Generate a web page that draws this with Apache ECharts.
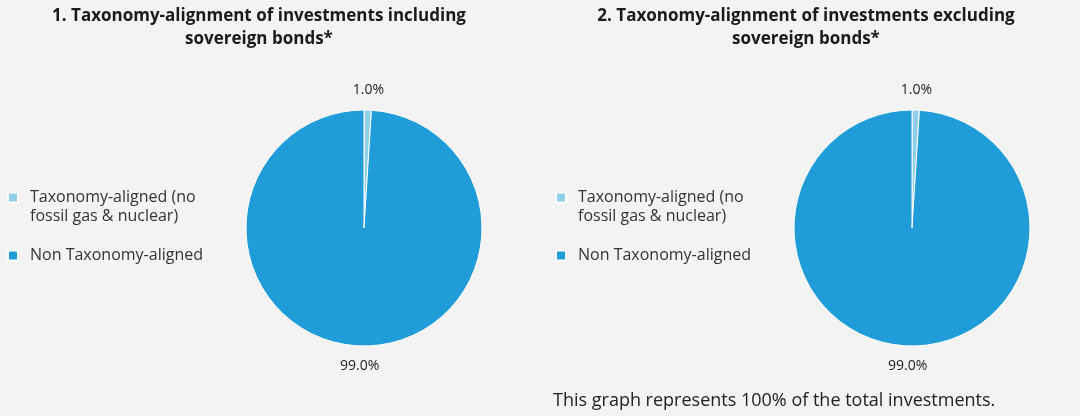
<!DOCTYPE html>
<html>
<head>
<meta charset="utf-8">
<script src="https://cdn.jsdelivr.net/npm/echarts@6/dist/echarts.min.js"></script>
<style>
  html, body { margin: 0; padding: 0; background: #f3f3f3; }
  #chart { width: 1080px; height: 416px; }
</style>
</head>
<body>
<div id="chart"></div>
<script>
// slice names and values (percent)
const categories = ["Taxonomy-aligned (no\nfossil gas & nuclear)", "Non Taxonomy-aligned"];
const inclSovereign = [1.0, 99.0];
const exclSovereign = [1.0, 99.0];
const colors = ["#8fcfea", "#209cd8"];

const titles = [
  "1. Taxonomy-alignment of investments including\nsovereign bonds*",
  "2. Taxonomy-alignment of investments excluding\nsovereign bonds*",
];
const footnote = "This graph represents 100% of the total investments.";

const pieRadius = 118;
const pieCenters = [[364, 228], [912, 228]];
const labelGap = 20;

const chart = echarts.init(document.getElementById("chart"));

// centre the percent label on the slice mid-angle, a bit outside the rim
const makeLabelLayout = (values, center) => (params) => {
  const total = values.reduce((a, b) => a + b, 0);
  let before = 0;
  for (let i = 0; i < params.dataIndex; i++) before += values[i];
  const mid = ((before + values[params.dataIndex] / 2) / total) * Math.PI * 2;
  const r = pieRadius + labelGap;
  return {
    x: center[0] + r * Math.sin(mid),
    y: center[1] - r * Math.cos(mid),
    align: "center",
    verticalAlign: "middle",
  };
};

const makePie = (values, center) => ({
  type: "pie",
  center: center,
  radius: pieRadius,
  startAngle: 90,
  clockwise: true,
  animation: false,
  itemStyle: { borderColor: "#ffffff", borderWidth: 1 },
  label: {
    show: true,
    position: "outside",
    formatter: (p) => p.value.toFixed(1) + "%",
    fontFamily: "Open Sans",
    fontSize: 14,
    color: "#222",
  },
  labelLine: { show: false },
  labelLayout: makeLabelLayout(values, center),
  emphasis: { disabled: true },
  data: values.map((v, i) => ({
    name: categories[i],
    value: v,
    itemStyle: { color: colors[i] },
  })),
});

const legendBase = {
  orient: "vertical",
  top: 169,
  padding: 0,
  itemWidth: 10,
  itemHeight: 10,
  itemGap: 20,
  icon: "rect",
  selectedMode: false,
  textStyle: {
    fontFamily: "Open Sans",
    fontSize: 16,
    lineHeight: 19,
    color: "#333",
    padding: [0, 0, 0, 7],
  },
  // blank first line on the two-line item keeps its square level with the first text line
  formatter: (name) => (name.indexOf("\n") >= 0 ? "\n" + name : name),
  data: categories,
};

const titleStyle = {
  fontFamily: "Open Sans",
  fontWeight: "bold",
  fontSize: 17,
  lineHeight: 23,
  color: "#1a1a1a",
};

chart.setOption({
  backgroundColor: "#f3f3f3",
  color: colors,
  title: [
    { text: titles[0], left: 259, top: 5, padding: 0, textAlign: "center", textStyle: titleStyle },
    { text: titles[1], left: 806, top: 5, padding: 0, textAlign: "center", textStyle: titleStyle },
    {
      text: footnote,
      left: 553,
      top: 391,
      padding: 0,
      textStyle: { fontFamily: "Open Sans", fontWeight: "normal", fontSize: 18, lineHeight: 20, color: "#222" },
    },
  ],
  legend: [
    Object.assign({}, legendBase, { left: 7 }),
    Object.assign({}, legendBase, { left: 555 }),
  ],
  series: [
    makePie(inclSovereign, pieCenters[0]),
    makePie(exclSovereign, pieCenters[1]),
  ],
});
</script>
</body>
</html>
